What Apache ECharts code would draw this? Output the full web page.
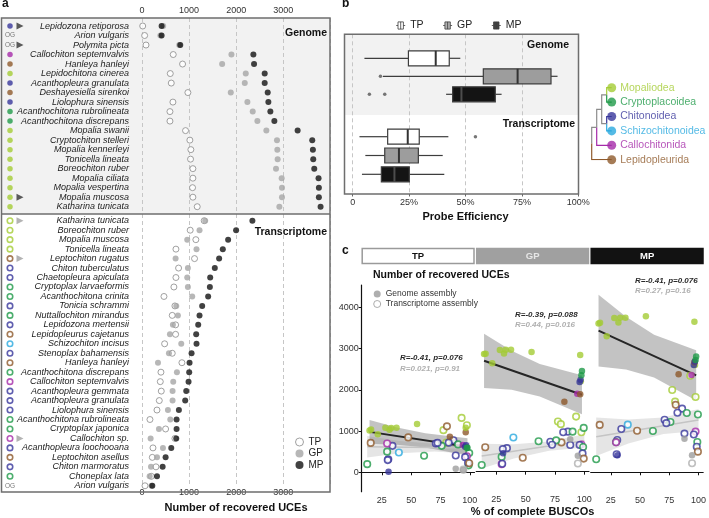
<!DOCTYPE html>
<html>
<head>
<meta charset="utf-8">
<script src="https://cdn.jsdelivr.net/npm/echarts@6/dist/echarts.min.js"></script>
<style>
  html, body { margin: 0; padding: 0; background: #fff; }
  #chart { width: 709px; height: 518px; }
</style>
</head>
<body>
<div id="chart"></div>
<script>
const FONT = '"Liberation Sans", Arial, Helvetica, sans-serif';

// ---------- clades ----------
const cladeKeys = ['Mop', 'Cry', 'Chi', 'Sch', 'Cal', 'Lep'];
const cladeNames = { Mop: 'Mopaliodea', Cry: 'Cryptoplacoidea', Chi: 'Chitonoidea', Sch: 'Schizochitonoidea', Cal: 'Callochitonida', Lep: 'Lepidopleurida' };
const cladeColors = { Mop: '#a4cc34', Cry: '#1f9a48', Chi: '#37369b', Sch: '#29a9df', Cal: '#a52aa9', Lep: '#8f5a2c', OG: '#9e9e9e' };
const cladeTree = [[[['Mop', 'Cry'], ['Chi', 'Sch']], 'Cal'], 'Lep'];

// ---------- panel a : genome ----------
const genomeSpecies = ['Lepidozona retiporosa', 'Arion vulgaris', 'Polymita picta', 'Callochiton septemvalvis', 'Hanleya hanleyi',
  'Lepidochitona cinerea', 'Acanthopleura granulata', 'Deshayesiella sirenkoi', 'Liolophura sinensis', 'Acanthochitona rubrolineata',
  'Acanthochitona discrepans', 'Mopalia swanii', 'Cryptochiton stelleri', 'Mopalia kennerleyi', 'Tonicella lineata',
  'Boreochiton ruber', 'Mopalia ciliata', 'Mopalia vespertina', 'Mopalia muscosa', 'Katharina tunicata'];
const genomeClade = ['Chi', 'OG', 'OG', 'Cal', 'Lep', 'Mop', 'Chi', 'Lep', 'Chi', 'Cry', 'Cry', 'Mop', 'Mop', 'Mop', 'Mop', 'Mop', 'Mop', 'Mop', 'Mop', 'Mop'];
const genomeFlagged = [0, 2, 18];
const genomeTP = [15, 56, 85, 663, 861, 600, 621, 974, 656, 593, 593, 924, 1016, 1037, 1030, 1080, 1080, 1073, 1080, 1172];
const genomeGP = [450, 390, 790, 1898, 1701, 2202, 2181, 1884, 2237, 2350, 2449, 2639, 2865, 2872, 2879, 2844, 2964, 2971, 2971, 2915];
const genomeMP = [416, 416, 812, 2364, 2378, 2604, 2604, 2668, 2682, 2724, 2809, 3303, 3613, 3627, 3634, 3656, 3747, 3754, 3754, 3790];
const genomeBusco = [30.7, 94.5, 88, 94, 83, 97, 96, 96.5, 96.8, 97.5, 98, 21.5, 14.5, 15.8, 31.5, 96.5, 28, 33, 37.5, 55];

// ---------- panel a : transcriptome ----------
const transSpecies = ['Katharina tunicata', 'Boreochiton ruber', 'Mopalia muscosa', 'Tonicella lineata', 'Leptochiton rugatus',
  'Chiton tuberculatus', 'Chaetopleura apiculata', 'Cryptoplax larvaeformis', 'Acanthochitona crinita', 'Tonicia schrammi',
  'Nuttallochiton mirandus', 'Lepidozona mertensii', 'Lepidopleurus cajetanus', 'Schizochiton incisus', 'Stenoplax bahamensis',
  'Hanleya hanleyi', 'Acanthochitona discrepans', 'Callochiton septemvalvis', 'Acanthopleura gemmata', 'Acanthopleura granulata',
  'Liolophura sinensis', 'Acanthochitona rubrolineata', 'Cryptoplax japonica', 'Callochiton sp.', 'Acanthopleura loochooana',
  'Leptochiton asellus', 'Chiton marmoratus', 'Choneplax lata', 'Arion vulgaris'];
const transClade = ['Mop', 'Mop', 'Mop', 'Mop', 'Lep', 'Chi', 'Chi', 'Cry', 'Cry', 'Chi', 'Cry', 'Chi', 'Lep', 'Sch', 'Chi',
  'Lep', 'Cry', 'Cal', 'Chi', 'Chi', 'Chi', 'Cry', 'Cry', 'Cal', 'Chi', 'Lep', 'Chi', 'Cry', 'OG'];
const transFlagged = [0, 4, 23];
const transTP = [1320, 1023, 1143, 720, 1115, 776, 720, 677, 466, 699, 642, 713, 713, 480, 642, 847, 402, 388, 409, 367, 318, 169, 501, 699, 233, 219, 296, 198, 64];
const transGP = [1341, 1221, 960, 1157, 713, 974, 960, 974, 1066, 727, 762, 656, 593, 833, 572, 339, 741, 663, 649, 649, 550, 600, 360, 183, 445, 318, 191, 162, 200];
const transMP = [2343, 1997, 1828, 1715, 1637, 1545, 1447, 1440, 1404, 1277, 1221, 1193, 1150, 1157, 1052, 1009, 1002, 988, 939, 917, 783, 734, 734, 727, 621, 501, 438, 318, 219];
const transBusco = [93, 77.5, 97.5, 80, 80.5, 86, 82, 90, 99.5, 71, 76, 72.5, 15.5, 39.5, 34, 47.5, 61, 97.5, 88, 96, 30.5, 99, 29.5, 29.5, 98.5, 99.5, 30, 12.5, 94.5];

const ucesTicks = [0, 1000, 2000, 3000];

// ---------- panel b : probe efficiency (min, Q1, median, Q3, max) ----------
const probeSets = ['TP', 'GP', 'MP'];
const genomeBoxes = [[5.2, 24.7, 36.8, 42.8, 47.7], [13.4, 57.9, 73.1, 87.9, 90.8], [41.4, 44.3, 48.2, 63.2, 66.0]];
const transBoxes = [[3.0, 15.5, 24.4, 29.5, 42.4], [5.6, 14.2, 20.5, 29.1, 39.9], [4.1, 12.7, 18.5, 25.1, 40.6]];
const genomeOutliers = [[12.3, 1], [7.4, 2], [14.2, 2]];
const transOutliers = [[54.4, 0]];

// ---------- panel c : fits ----------
const buscoTicks = [25, 50, 75, 100];
const uceTicksC = [0, 1000, 2000, 3000, 4000];
const genomeFitX = [14.5, 38, 62, 98];
const genomeFitLine = [[981, 618], [2700, 1873], [3439, 2352]];
const genomeBandLo = [[691, 670, 600, 409], [2040, 1992, 1833, 1398], [2569, 2493, 2301, 1742]];
const genomeBandHi = [[1271, 1088, 948, 827], [3360, 2942, 2625, 2348], [4309, 3773, 3341, 2962]];
const transFitX = [12.5, 40, 70, 100];
const transFitLine = [[620, 590], [380, 751], [863, 1270]];
const transBandLo = [[360, 461, 505, 450], [80, 322, 512, 589], [398, 701, 930, 1005]];
const transBandHi = [[880, 761, 695, 730], [680, 670, 734, 913], [1328, 1281, 1330, 1535]];
const statsGenome = ['R=-0.41, p=0.076', 'R=-0.39, p=0.088', 'R=-0.41, p=0.076'];
const statsTrans = ['R=0.021, p=0.91', 'R=0.44, p=0.016', 'R=0.27, p=0.16'];

// ================= build =================
const grids = [], xAxes = [], yAxes = [], series = [];
function addGrid(rect, xa, ya) {
  grids.push(rect);
  const gridIndex = grids.length - 1;
  xAxes.push(Object.assign({ gridIndex }, xa));
  yAxes.push(Object.assign({ gridIndex }, ya));
  return { gi: gridIndex, x: xAxes.length - 1, y: yAxes.length - 1 };
}
const dashed = { show: true, lineStyle: { type: [4, 3], color: '#c6c6c6', width: 1 } };
const tickLabel = { fontSize: 9, color: '#333', fontFamily: FONT };
const axisName = { fontWeight: 'bold', fontSize: 11, color: '#111', fontFamily: FONT };
const noAxis = { axisLine: { show: false }, axisTick: { show: false } };
const plain = v => String(v);

// ---- panel a ----
const aLeft = 142, aWidth = 188, ucesMax = 3990;
const ucesFmt = v => (v % 1000 === 0 ? String(v) : '');
const aBg = addGrid({ left: aLeft, top: 18, width: aWidth, height: 474 },
  Object.assign({ type: 'value', position: 'top', min: 0, max: ucesMax, interval: 1000, splitLine: dashed,
    axisLabel: Object.assign({ margin: 3, formatter: ucesFmt, customValues: ucesTicks }, tickLabel) }, noAxis),
  { type: 'value', min: 0, max: 1, show: false });
xAxes.push(Object.assign({ gridIndex: aBg.gi, type: 'value', position: 'bottom', min: 0, max: ucesMax, interval: 1000,
  splitLine: { show: false }, axisLabel: Object.assign({ margin: 3, formatter: ucesFmt, customValues: ucesTicks }, tickLabel),
  name: 'Number of recovered UCEs', nameLocation: 'middle', nameGap: 16, nameTextStyle: axisName }, noAxis));

const speciesLabel = { fontStyle: 'italic', fontSize: 9, color: '#222', margin: 13, interval: 0, fontFamily: FONT };
const aGen = addGrid({ left: aLeft, top: 21.25, width: aWidth, height: 190.2 },
  { type: 'value', min: 0, max: ucesMax, show: false },
  Object.assign({ type: 'category', data: genomeSpecies, inverse: true, splitLine: { show: false }, axisLabel: speciesLabel }, noAxis));
const aTra = addGrid({ left: aLeft, top: 216, width: aWidth, height: 274.5 },
  { type: 'value', min: 0, max: ucesMax, show: false },
  Object.assign({ type: 'category', data: transSpecies, inverse: true, splitLine: { show: false }, axisLabel: speciesLabel }, noAxis));
const aGenMark = addGrid({ left: 5, top: 21.25, width: 20, height: 190.2 },
  { type: 'category', data: ['clade', 'flag'], show: false },
  { type: 'category', data: genomeSpecies, inverse: true, show: false });
const aTraMark = addGrid({ left: 5, top: 216, width: 20, height: 274.5 },
  { type: 'category', data: ['clade', 'flag'], show: false },
  { type: 'category', data: transSpecies, inverse: true, show: false });

const uceStyles = {
  TP: { color: '#fff', borderColor: '#8a8a8a', borderWidth: 1 },
  GP: { color: '#a5a5a5' },
  MP: { color: '#121212' }
};
function uceSeries(name, vals, ax) {
  return { type: 'scatter', name, xAxisIndex: ax.x, yAxisIndex: ax.y, symbolSize: 6, itemStyle: uceStyles[name],
    data: vals.map((v, i) => [v, i]) };
}
series.push(uceSeries('TP', genomeTP, aGen), uceSeries('GP', genomeGP, aGen), uceSeries('MP', genomeMP, aGen));
series.push(uceSeries('TP', transTP, aTra), uceSeries('GP', transGP, aTra), uceSeries('MP', transMP, aTra));

function cladeDots(clades, ax, open) {
  return { type: 'scatter', xAxisIndex: ax.x, yAxisIndex: ax.y, symbolSize: 5.5, silent: true,
    data: clades.map((c, i) => c === 'OG'
      ? { value: [0, i], symbolSize: 1, itemStyle: { color: 'rgba(0,0,0,0)' },
          label: { show: true, position: 'inside', formatter: 'OG', fontSize: 6.5, color: '#555', fontFamily: FONT } }
      : { value: [0, i], itemStyle: open ? { color: '#fff', borderColor: cladeColors[c], borderWidth: 1.6 } : { color: cladeColors[c] } }) };
}
function flagSeries(flags, ax, color) {
  return { type: 'scatter', xAxisIndex: ax.x, yAxisIndex: ax.y, symbol: 'triangle', symbolRotate: -90, symbolSize: 7,
    silent: true, itemStyle: { color }, data: flags.map(i => [1, i]) };
}
series.push(cladeDots(genomeClade, aGenMark, false), flagSeries(genomeFlagged, aGenMark, '#333'));
series.push(cladeDots(transClade, aTraMark, true), flagSeries(transFlagged, aTraMark, '#a0a0a0'));

// ---- panel b ----
const bLeft = 352.7, bWidth = 225.6;
addGrid({ left: bLeft, top: 34.3, width: bWidth, height: 159.7 },
  { type: 'value', min: 0, max: 100, interval: 25, splitLine: dashed, axisLine: { show: false },
    axisTick: { show: true, length: 2.5, lineStyle: { color: '#666' } },
    axisLabel: Object.assign({ margin: 4, formatter: v => (v === 0 ? '0' : v + '%') }, tickLabel),
    name: 'Probe Efficiency', nameLocation: 'middle', nameGap: 17, nameTextStyle: axisName },
  { type: 'value', min: 0, max: 1, show: false });
const bGen = addGrid({ left: bLeft, top: 49.3, width: bWidth, height: 54 },
  { type: 'value', min: 0, max: 100, show: false },
  { type: 'category', data: probeSets, inverse: true, show: false });
const bTra = addGrid({ left: bLeft, top: 127.3, width: bWidth, height: 56.4 },
  { type: 'value', min: 0, max: 100, show: false },
  { type: 'category', data: probeSets, inverse: true, show: false });

const boxFill = { TP: '#ffffff', GP: '#9d9d9d', MP: '#141414' };
const boxMedian = { TP: '#333', GP: '#333', MP: '#4d4d4d' };
function boxSeries(name, stats, catIndex, ax) {
  return { type: 'custom', name, xAxisIndex: ax.x, yAxisIndex: ax.y, silent: true,
    itemStyle: { color: boxFill[name] },
    data: [[catIndex].concat(stats)], encode: { x: [1, 2, 3, 4, 5], y: 0 },
    renderItem(params, api) {
      const c = api.value(0);
      const p = [1, 2, 3, 4, 5].map(d => api.coord([api.value(d), c]));
      const y = p[0][1], h = 15;
      const ln = { stroke: '#3d3d3d', lineWidth: 1.2 };
      return { type: 'group', children: [
        { type: 'line', shape: { x1: p[0][0], y1: y, x2: p[1][0], y2: y }, style: ln },
        { type: 'line', shape: { x1: p[3][0], y1: y, x2: p[4][0], y2: y }, style: ln },
        { type: 'rect', shape: { x: p[1][0], y: y - h / 2, width: p[3][0] - p[1][0], height: h },
          style: { fill: boxFill[name], stroke: '#3d3d3d', lineWidth: 1.2 } },
        { type: 'line', shape: { x1: p[2][0], y1: y - h / 2, x2: p[2][0], y2: y + h / 2 },
          style: { stroke: boxMedian[name], lineWidth: 2 } }
      ] };
    } };
}
probeSets.forEach((n, i) => {
  series.push(boxSeries(n, genomeBoxes[i], i, bGen));
  series.push(boxSeries(n, transBoxes[i], i, bTra));
});
[[genomeOutliers, bGen], [transOutliers, bTra]].forEach(([pts, ax]) => {
  series.push({ type: 'scatter', xAxisIndex: ax.x, yAxisIndex: ax.y, symbolSize: 3.5, silent: true,
    itemStyle: { color: '#555' }, data: pts });
});

// ---- clade tree ----
const treeLeaves = [], treeEdges = [];
function layoutTree(node, depth) {
  if (typeof node === 'string') {
    const leaf = { key: node, x: 4, y: treeLeaves.length };
    treeLeaves.push(leaf);
    return leaf;
  }
  const kids = node.map(n => layoutTree(n, depth + 1));
  const y = (kids[0].y + kids[kids.length - 1].y) / 2;
  kids.forEach(k => treeEdges.push({ coords: [[depth, y], [depth, k.y], [k.x, k.y]],
    lineStyle: { color: k.key ? cladeColors[k.key] : '#8c8c8c', width: 1.2 } }));
  return { x: depth, y };
}
layoutTree(cladeTree, 0);
const tr = addGrid({ left: 591.7, top: 87.7, width: 20, height: 72 },
  { type: 'value', min: 0, max: 4, show: false },
  { type: 'value', min: 0, max: 5, inverse: true, show: false });
series.push({ type: 'lines', coordinateSystem: 'cartesian2d', xAxisIndex: tr.x, yAxisIndex: tr.y, polyline: true,
  silent: true, lineStyle: { width: 1.2, opacity: 1 }, data: treeEdges });
series.push({ type: 'scatter', xAxisIndex: tr.x, yAxisIndex: tr.y, symbolSize: 9, silent: true,
  data: treeLeaves.map(l => ({ value: [l.x, l.y], itemStyle: { color: cladeColors[l.key] },
    label: { show: true, position: 'right', distance: 4, formatter: cladeNames[l.key], color: cladeColors[l.key],
      fontSize: 10.5, fontFamily: FONT } })) });

// ---- panel c ----
const facetLeft = [361.7, 476.2, 590.7], facetW = 112.8, facetTop = 285, facetH = 206.7;
const buscoMin = 7.8, buscoMax = 104, uceMinC = -471, uceMaxC = 4546;
const uceByFacet = [[genomeTP, transTP], [genomeGP, transGP], [genomeMP, transMP]];
const blackLine = { show: true, lineStyle: { color: '#111', width: 1.2 } };
function bandSeries(ax, xs, lo, hi, fill) {
  return { type: 'custom', xAxisIndex: ax.x, yAxisIndex: ax.y, silent: true, z: 1,
    data: xs.map((x, i) => [x, lo[i], hi[i]]), encode: { x: 0, y: [1, 2] },
    renderItem(params, api) {
      if (params.dataIndex !== 0) return null;
      const top = xs.map((x, i) => api.coord([x, hi[i]]));
      const bot = xs.map((x, i) => api.coord([x, lo[i]])).reverse();
      return { type: 'polygon', shape: { points: top.concat(bot) }, style: { fill } };
    } };
}
[0, 1, 2].forEach(f => {
  const ax = addGrid({ left: facetLeft[f], top: facetTop, width: facetW, height: facetH },
    { type: 'value', min: buscoMin, max: buscoMax, axisLine: blackLine, splitLine: { show: false },
      axisTick: { show: true, length: 3, customValues: buscoTicks, lineStyle: { color: '#111' } },
      axisLabel: Object.assign({ margin: 4, customValues: buscoTicks, formatter: plain }, tickLabel),
      name: f === 1 ? '% of complete BUSCOs' : '', nameLocation: 'middle', nameGap: 15, nameTextStyle: axisName },
    f === 0
      ? { type: 'value', min: uceMinC, max: uceMaxC, axisLine: blackLine, splitLine: { show: false },
          axisTick: { show: true, length: 3, customValues: uceTicksC, lineStyle: { color: '#111' } },
          axisLabel: Object.assign({ margin: 3, customValues: uceTicksC, formatter: plain }, tickLabel) }
      : { type: 'value', min: uceMinC, max: uceMaxC, show: false });
  series.push(bandSeries(ax, transFitX, transBandLo[f], transBandHi[f], 'rgba(175,175,175,0.33)'));
  series.push(bandSeries(ax, genomeFitX, genomeBandLo[f], genomeBandHi[f], 'rgba(135,135,135,0.5)'));
  series.push({ type: 'line', xAxisIndex: ax.x, yAxisIndex: ax.y, symbol: 'none', silent: true, z: 2,
    lineStyle: { color: '#c4c4c4', width: 1.6 },
    data: [[transFitX[0], transFitLine[f][0]], [transFitX[3], transFitLine[f][1]]] });
  series.push({ type: 'line', xAxisIndex: ax.x, yAxisIndex: ax.y, symbol: 'none', silent: true, z: 2,
    lineStyle: { color: '#262626', width: 2 },
    data: [[genomeFitX[0], genomeFitLine[f][0]], [genomeFitX[3], genomeFitLine[f][1]]] });
  series.push({ type: 'scatter', name: 'Transcriptome assembly', xAxisIndex: ax.x, yAxisIndex: ax.y, symbolSize: 6.5, z: 3,
    data: transBusco.map((b, i) => ({ value: [b, uceByFacet[f][1][i]],
      itemStyle: { color: '#fff', borderColor: transClade[i] === 'OG' ? '#b0b0b0' : cladeColors[transClade[i]], borderWidth: 1.6 } })) });
  series.push({ type: 'scatter', name: 'Genome assembly', xAxisIndex: ax.x, yAxisIndex: ax.y, symbolSize: 6.5, z: 4,
    data: genomeBusco.map((b, i) => ({ value: [b, uceByFacet[f][0][i]], itemStyle: { color: cladeColors[genomeClade[i]] } })) });
});

// ---------- decorations ----------
function txt(x, y, text, o) {
  o = o || {};
  return { type: 'text', x, y, z: 60, silent: true,
    style: { text, fill: o.fill || '#111', fontSize: o.size || 10, fontWeight: o.weight || 'normal', fontStyle: o.italic ? 'italic' : 'normal',
      fontFamily: FONT, align: o.align || 'left', textAlign: o.align || 'left', verticalAlign: 'middle', textVerticalAlign: 'middle' } };
}
function rect(x, y, w, h, fill, stroke, lw, z) {
  return { type: 'rect', z, silent: true, shape: { x, y, width: w, height: h }, style: { fill, stroke: stroke || 'none', lineWidth: lw || 0 } };
}
const stripFill = ['#ffffff', '#a0a0a0', '#121212'];
const stripText = ['#111', '#e6e6e6', '#ffffff'];
const statPos = [[400, 358, 368.5], [515, 314.5, 324.5], [635, 281, 290.5]];
const elements = [
  rect(1.5, 18, 328.5, 196, '#f2f2f2', null, 0, -10),
  rect(344.5, 34.3, 234, 80.7, '#f2f2f2', null, 0, -10),
  rect(1.5, 18, 328.5, 474, 'none', '#6e6e6e', 1.5, 50),
  { type: 'line', z: 50, silent: true, shape: { x1: 1.5, y1: 214, x2: 330, y2: 214 }, style: { stroke: '#6e6e6e', lineWidth: 1.5 } },
  rect(344.5, 34.3, 234, 159.7, 'none', '#6e6e6e', 1.5, 50),
  txt(2, 4, 'a', { weight: 'bold', size: 12 }),
  txt(342, 4, 'b', { weight: 'bold', size: 12 }),
  txt(342, 251, 'c', { weight: 'bold', size: 12 }),
  txt(327, 33, 'Genome', { weight: 'bold', size: 10.5, align: 'right' }),
  txt(327, 232.5, 'Transcriptome', { weight: 'bold', size: 10.5, align: 'right' }),
  txt(569, 45, 'Genome', { weight: 'bold', size: 10.5, align: 'right' }),
  txt(575, 124, 'Transcriptome', { weight: 'bold', size: 10.5, align: 'right' }),
  txt(373, 275.5, 'Number of recovered UCEs', { weight: 'bold', size: 10.5 })
];
probeSets.forEach((n, f) => {
  elements.push(rect(facetLeft[f] + 0.5, 248.5, facetW - 1, 15, stripFill[f], f === 0 ? '#9a9a9a' : stripFill[f], 1.5, 40));
  elements.push(txt(facetLeft[f] + facetW / 2, 256, n, { weight: 'bold', size: 9.5, fill: stripText[f], align: 'center' }));
  elements.push(txt(statPos[f][0], statPos[f][1], statsGenome[f], { weight: 'bold', italic: true, size: 8, fill: '#2a2a2a' }));
  elements.push(txt(statPos[f][0], statPos[f][2], statsTrans[f], { weight: 'bold', italic: true, size: 8, fill: '#b0b0b0' }));
});

const option = {
  animation: false,
  textStyle: { fontFamily: FONT },
  grid: grids,
  xAxis: xAxes,
  yAxis: yAxes,
  series,
  legend: [
    { left: 290, top: 432, orient: 'vertical', itemWidth: 8, itemHeight: 8, itemGap: 1.5, selectedMode: false,
      textStyle: { fontSize: 10, color: '#222', fontFamily: FONT },
      data: [{ name: 'TP', icon: 'circle', itemStyle: { color: '#fff', borderColor: '#8a8a8a', borderWidth: 1 } },
             { name: 'GP', icon: 'circle', itemStyle: { color: '#a5a5a5' } },
             { name: 'MP', icon: 'circle', itemStyle: { color: '#121212' } }] },
    { left: 390.7, top: 15, orient: 'horizontal', itemWidth: 9, itemHeight: 9, itemGap: 19, selectedMode: false,
      textStyle: { fontSize: 10.5, color: '#222', fontFamily: FONT },
      data: probeSets.map(n => ({ name: n, icon: 'path://M0,5H2M8,5H10M2,1H8V9H2ZM5,1V9',
        itemStyle: { color: boxFill[n], borderColor: '#3d3d3d', borderWidth: 1 } })) },
    { left: 368.2, top: 284.5, orient: 'vertical', itemWidth: 7, itemHeight: 7, itemGap: 1, selectedMode: false,
      textStyle: { fontSize: 8.5, color: '#333', fontFamily: FONT },
      data: [{ name: 'Genome assembly', icon: 'circle', itemStyle: { color: '#9a9a9a' } },
             { name: 'Transcriptome assembly', icon: 'circle', itemStyle: { color: '#fff', borderColor: '#999', borderWidth: 1 } }] }
  ],
  graphic: { elements }
};

const chart = echarts.init(document.getElementById('chart'));
chart.setOption(option);
window.addEventListener('resize', () => chart.resize());
</script>
</body>
</html>
